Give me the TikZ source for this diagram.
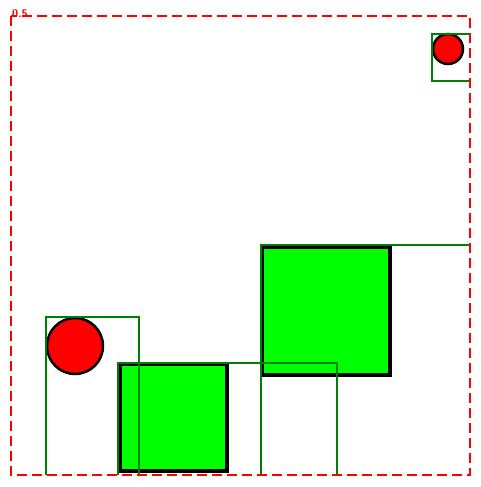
\documentclass[tikz,border=0pt]{standalone}
\usepackage{tikz}
\usetikzlibrary{positioning, calc}
\tikzset{
	framebox/.style={draw=red, line width=2.5pt, dash pattern=on 10pt off 5pt},
	boundbox/.style={draw=green!50!black, line width=2.5pt},
	ball/.style={circle, draw=black, line width=2.5pt, fill=red, inner sep=0pt},
	block/.style={rectangle, draw=black, line width=4pt, fill=green, inner sep=0pt}
}
\tikzset{
	redtext/.style={font=\fontsize{11}{11}\selectfont\sffamily\bfseries, text=red}
}

\begin{document}
\begin{tikzpicture}[x=1pt, y=-1pt]
      \useasboundingbox (0,0) rectangle (481,487);
      % shapes
      \node[ball, minimum size=56pt] (bigball) at (75,346) {};
      \node[ball, minimum size=30pt] (smallball) at (448,49) {};
      \node[block, minimum size=128pt] (bigblock) at (326,310.5) {};
      \node[block, minimum size=107pt] (smallblock) at (173.5,417.5) {};
      % bounding boxes of the shapes
      \draw[boundbox] (46,475) -- (46,317) -- (139,317) -- (139,475);
      \draw[boundbox] (118,475) -- (118,363) -- (337,363) -- (337,475);
      \draw[boundbox] (261,475) -- (261,245) -- (470,245);
      \draw[boundbox] (470,34) -- (432,34) -- (432,81) -- (470,81);
      % frame and its label
      \draw[framebox] (11,16) rectangle (470,475);
      \node[redtext, inner sep=0pt, anchor=south west] (scale) at (12,18) {0.5};
    \end{tikzpicture}
\end{document}
